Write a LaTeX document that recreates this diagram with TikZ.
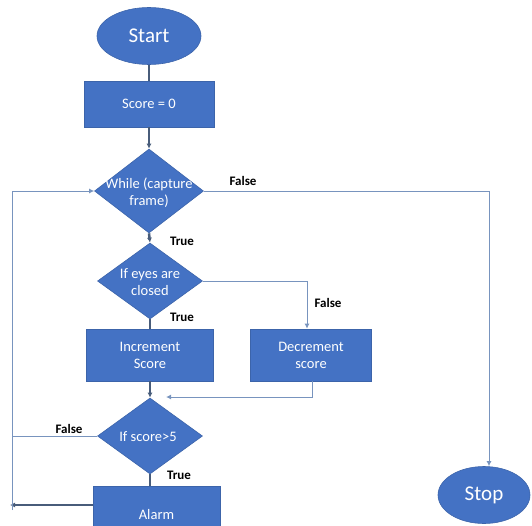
\documentclass[tikz,border=0pt]{standalone}
\usepackage{fontspec}
\setmainfont{Carlito}
\usetikzlibrary{shapes.geometric,arrows.meta}
\definecolor{fillblue}{RGB}{68,114,196}
\definecolor{edgeblue}{RGB}{60,100,170}
\definecolor{thinline}{RGB}{120,148,190}
\definecolor{thickline}{RGB}{72,92,122}
\tikzset{
  every node/.style={inner sep=0pt},
  term/.style={ellipse, fill=fillblue, draw=edgeblue, line width=0.6pt, text=white},
  proc/.style={rectangle, fill=fillblue, draw=edgeblue, line width=0.6pt, text=white, align=center, font=\fontsize{14.5}{17}\selectfont},
  decide/.style={diamond, fill=fillblue, draw=edgeblue, line width=0.6pt},
  dtext/.style={text=white, align=center, font=\fontsize{14.5}{17}\selectfont},
  lbl/.style={font=\fontsize{13}{15}\selectfont\bfseries, text=black},
  thin/.style={draw=thinline, line width=1pt},
  thick/.style={draw=thickline, line width=2.5pt},
  tip/.style={-{Latex[length=5pt,width=5pt]}},
}
\begin{document}
\begin{tikzpicture}[x=1pt,y=-1pt]
\useasboundingbox (0,0) rectangle (532,525);
\clip (0,0) rectangle (532,525);
% nodes
\node[term, minimum width=104pt, minimum height=57pt, font=\fontsize{21}{24}\selectfont] (start) at (149,36) {Start};
\node[proc, minimum width=130pt, minimum height=46pt] (score) at (149,104) {Score = 0};
\node[decide, minimum width=109pt, minimum height=84pt] (while) at (149,191) {};
\node[dtext] (whilet) at (149,193) {While (capture\\frame)};
\node[decide, minimum width=105pt, minimum height=76pt] (eyes) at (150,281) {};
\node[dtext] (eyest) at (150,282) {If eyes are\\closed};
\node[proc, minimum width=127pt, minimum height=52pt] (inc) at (150,355) {Increment\\Score};
\node[proc, minimum width=121pt, minimum height=52pt] (dec) at (311,355) {Decrement\\score};
\node[decide, minimum width=105pt, minimum height=76pt] (sc) at (150,436) {};
\node[dtext] (sct) at (148,437) {If score>5};
\node[proc, minimum width=127pt, minimum height=58pt] (alarm) at (156.5,515) {Alarm};
\node[term, minimum width=92pt, minimum height=57pt, font=\fontsize{21}{24}\selectfont] (stop) at (484,495) {Stop};
% labels
\node[lbl] (l1) at (243,181) {False};
\node[lbl] (l2) at (182,241) {True};
\node[lbl] (l3) at (328,303) {False};
\node[lbl] (l4) at (182,317) {True};
\node[lbl] (l5) at (69,429) {False};
\node[lbl] (l6) at (179,475) {True};
% coordinates
\coordinate (wf) at (489,191);
\coordinate (ef) at (307,281);
\coordinate (d1) at (312,397);
\coordinate (d2) at (166,397);
\coordinate (sf) at (12,436);
\coordinate (a1) at (93,505);
\coordinate (a2) at (10,505);
\coordinate (lp1) at (12,510);
\coordinate (lp2) at (12,191);
% connectors
\draw[thick] (start.south) -- (score.north);
\draw[thick, tip] (score.south) -- (while.north);
\draw[thick, tip] (while.south) -- (eyes.north);
\draw[thin, tip] (while.east) -- (wf) -- (wf |- stop.north);
\draw[thin, tip] (eyes.east) -- (ef) -- (ef |- dec.north);
\draw[thick] (eyes.south) -- (inc.north);
\draw[thick, tip] (inc.south) -- (sc.north);
\draw[thin, tip] (d1 |- dec.south) -- (d1) -- (d2);
\draw[thin] (sc.west) -- (sf);
\draw[thick] (sc.south) -- (sc.south |- alarm.north);
\draw[thick, tip] (a1) -- (a2);
\draw[thin, tip] (lp1) -- (lp2) -- (while.west);
\end{tikzpicture}
\end{document}
